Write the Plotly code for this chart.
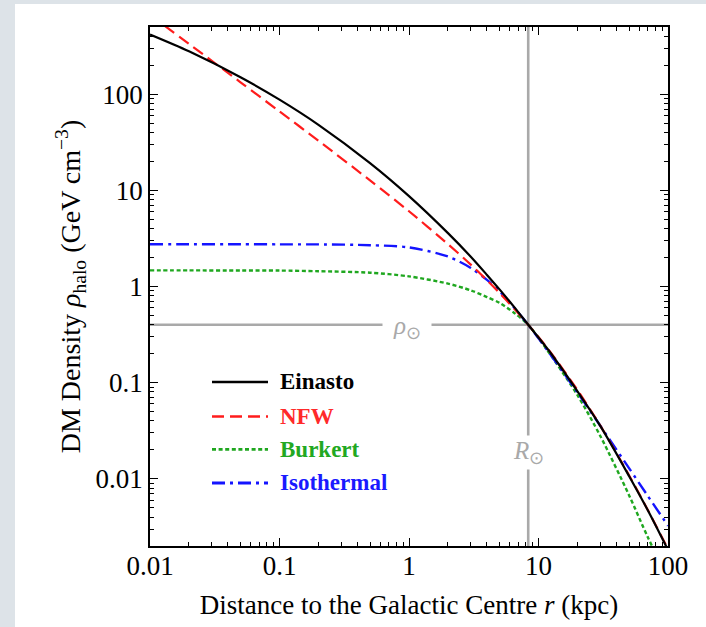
import math
import plotly.graph_objects as go

# ---------------- data ----------------
r_kpc = [0.01, 0.02, 0.05, 0.1, 0.2, 0.5, 1, 2, 3, 4, 5, 6.5, 8.33, 12, 20, 30, 50, 70, 100]

rho_einasto = [417, 279, 150, 87.7, 48.0, 19.2, 8.71, 3.59, 2.04, 1.32, 0.933, 0.610,
               0.400, 0.216, 0.0813, 0.0355, 0.0107, 0.00468, 0.00182]
rho_nfw = [668, 334, 133, 66.2, 32.8, 12.7, 6.06, 2.76, 1.69, 1.16, 0.856, 0.586,
           0.400, 0.219, 0.0836, 0.0357, 0.0109, 0.00472, 0.00186]
rho_burkert = [1.47, 1.47, 1.468, 1.465, 1.442, 1.392, 1.274, 1.072, 0.912, 0.776, 0.676, 0.531,
               0.400, 0.2065, 0.0741, 0.0279, 0.00676, 0.00245, 0.00092]
rho_isothermal = [2.75, 2.75, 2.75, 2.745, 2.74, 2.69, 2.55, 2.05, 1.56, 1.17, 0.89, 0.60,
                  0.400, 0.207, 0.0789, 0.0356, 0.0129, 0.0066, 0.00325]

series_names = ["Einasto", "NFW", "Burkert", "Isothermal"]

R_SUN = 8.33
RHO_SUN = 0.4

x_range = [0.01, 100]
y_range = [0.002, 500]
x_tickvals = [0.01, 0.1, 1, 10, 100]
x_ticktext = ["0.01", "0.1", "1", "10", "100"]
y_tickvals = [0.01, 0.1, 1, 10, 100]
y_ticktext = ["0.01", "0.1", "1", "10", "100"]

# ---------------- styling ----------------
SERIF = "Liberation Serif, Times New Roman, serif"
GRAY = "#a9a9a9"
styles = {
    "Einasto": dict(color="#000000", dash="solid", width=2.2, text="#000000"),
    "NFW": dict(color="#ff1c1c", dash="12px,6px", width=2.2, text="#ff2a2a"),
    "Burkert": dict(color="#1fa71f", dash="4px,2.6px", width=2.4, text="#22a822"),
    "Isothermal": dict(color="#1414ff", dash="13px,5px,3px,5px", width=2.4, text="#1a1aff"),
}
series_values = {
    "Einasto": rho_einasto,
    "NFW": rho_nfw,
    "Burkert": rho_burkert,
    "Isothermal": rho_isothermal,
}


def ital(s, size):
    return '<span style="font-style:italic;font-size:%spx">%s</span>' % (size, s)


fig = go.Figure()

# reference lines
fig.add_trace(go.Scatter(x=x_range, y=[RHO_SUN, RHO_SUN], mode="lines",
                         line=dict(color=GRAY, width=2.6), hoverinfo="skip", showlegend=False))
fig.add_trace(go.Scatter(x=[R_SUN, R_SUN], y=y_range, mode="lines",
                         line=dict(color=GRAY, width=2.6), hoverinfo="skip", showlegend=False))

# curves (black drawn last, on top)
for name in ["Burkert", "Isothermal", "NFW", "Einasto"]:
    st = styles[name]
    fig.add_trace(go.Scatter(
        x=r_kpc, y=series_values[name], mode="lines", name=name,
        line=dict(color=st["color"], dash=st["dash"], width=st["width"], shape="spline", smoothing=0.8),
        showlegend=False,
    ))

minor_vals = [m * 10.0 ** e for e in range(-3, 3) for m in range(2, 10)]

axis_common = dict(
    type="log", showline=True, linecolor="black", linewidth=1.6, mirror="ticks",
    ticks="inside", ticklen=8, tickwidth=1.3, tickcolor="black",
    showgrid=False, zeroline=False, tickmode="array",
    tickfont=dict(family=SERIF, size=27, color="black"),
    minor=dict(ticks="inside", ticklen=4.5, tickwidth=1.1, tickcolor="black",
               showgrid=False, tickmode="array", tickvals=minor_vals),
    automargin=False,
)

fig.update_layout(
    width=706, height=627,
    margin=dict(l=150, r=38, t=27, b=81),
    paper_bgcolor="#dde3e8",
    plot_bgcolor="white",
    showlegend=False,
    xaxis=dict(axis_common, range=[math.log10(x_range[0]), math.log10(x_range[1])],
               tickvals=x_tickvals, ticktext=x_ticktext, ticklabelstandoff=-5,
               title=dict(text="Distance to the Galactic Centre " + ital("r", 27) + " (kpc)",
                          font=dict(family=SERIF, size=27, color="black"), standoff=15)),
    yaxis=dict(axis_common, range=[math.log10(y_range[0]), math.log10(y_range[1])],
               tickvals=y_tickvals, ticktext=y_ticktext,
               title=dict(text="DM Density " + ital("ρ", 28) + "<sub>halo</sub> (GeV cm<sup>−3</sup>)",
                          font=dict(family=SERIF, size=28, color="black"), standoff=7)),
)

# white panel behind the figure
fig.add_shape(type="rect", xref="paper", yref="paper", x0=-0.2606, x1=1.2, y0=-0.3, y1=1.0443,
              fillcolor="white", line_width=0, layer="below")

# labels on the reference lines
fig.add_annotation(x=math.log10(0.96), y=math.log10(RHO_SUN), xref="x", yref="y",
                   text=ital("ρ", 25) + "<sub>⊙</sub>", showarrow=False, bgcolor="white", width=46,
                   yshift=-3, font=dict(family=SERIF, size=25, color=GRAY))
fig.add_annotation(x=math.log10(R_SUN), y=math.log10(0.0188), xref="x", yref="y",
                   text=ital("R", 25) + "<sub>⊙</sub>", showarrow=False, bgcolor="white",
                   font=dict(family=SERIF, size=25, color=GRAY))

# legend (drawn in the plot area)
leg_x0, leg_x1, leg_tx = 0.1197, 0.2278, 0.2471
leg_rows = [0.316, 0.2495, 0.186, 0.1214]
for name, yy in zip(series_names, leg_rows):
    st = styles[name]
    fig.add_shape(type="line", xref="paper", yref="paper", x0=leg_x0, x1=leg_x1, y0=yy, y1=yy,
                  line=dict(color=st["color"], dash=st["dash"], width=st["width"] + 0.4))
    fig.add_annotation(x=leg_tx, y=yy, xref="paper", yref="paper", xanchor="left", yanchor="middle",
                       text=name, showarrow=False,
                       font=dict(family=SERIF, size=23, color=st["text"], weight="bold"))

fig.write_html("out.html")
